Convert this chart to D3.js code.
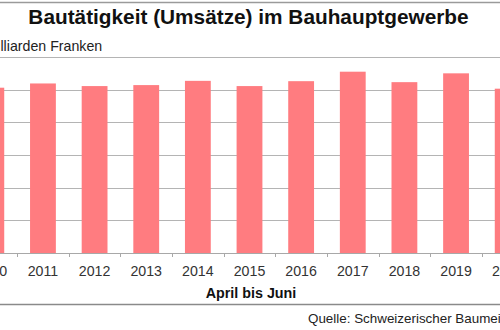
<!DOCTYPE html>
<html><head><meta charset="utf-8">
<script src="https://cdn.jsdelivr.net/npm/d3@7"></script>
<style>
html,body{margin:0;padding:0;background:#fff;}
svg{display:block;font-family:"Liberation Sans",Arial,sans-serif;}
</style></head>
<body>
<svg id="c" width="500" height="330"></svg>
<script>
const years = ["2010","2011","2012","2013","2014","2015","2016","2017","2018","2019","2020"];
const values = [5.06, 5.19, 5.11, 5.14, 5.27, 5.11, 5.26, 5.55, 5.23, 5.50, 5.03];
const yTicks = [0, 1, 2, 3, 4, 5, 6];
const title = "Bautätigkeit (Umsätze) im Bauhauptgewerbe";
const unitLabel = "Milliarden Franken";
const xTitle = "April bis Juni";
const source = "Quelle: Schweizerischer Baumeisterverband";

const svg = d3.select("#c");
svg.append("rect").attr("width",500).attr("height",330).attr("fill","#fff");

const x = d3.scaleBand().domain(years).range([-34.5, 533.5]).paddingInner(0.5).paddingOuter(0.25);
const y = d3.scaleLinear().domain([0, 6]).range([253, 57]);

// top frame line
svg.append("line").attr("x1",0).attr("x2",500).attr("y1",2.5).attr("y2",2.5)
  .attr("stroke","#9a9a9a").attr("stroke-width",1.5);

// gridlines
svg.append("g").selectAll("line").data(yTicks.filter(t => t > 0)).join("line")
  .attr("x1",0).attr("x2",500)
  .attr("y1",d => Math.round(y(d)) + 0.5).attr("y2",d => Math.round(y(d)) + 0.5)
  .attr("stroke","#b4b4b4").attr("stroke-width",1);

// bars
svg.append("g").selectAll("rect").data(years).join("rect")
  .attr("x", d => x(d))
  .attr("width", x.bandwidth())
  .attr("y", (d,i) => y(values[i]))
  .attr("height", (d,i) => y(0) - y(values[i]))
  .attr("fill", "#ff7c80");

// x axis baseline and ticks at category boundaries
const step = x.step();
const bounds = years.map(d => x(d) - step * 0.25).concat([x(years[years.length-1]) + x.bandwidth() + step*0.25]);
svg.append("line").attr("x1",0).attr("x2",500).attr("y1",y(0)+0.5).attr("y2",y(0)+0.5)
  .attr("stroke","#a8a8a8").attr("stroke-width",1);
svg.append("g").selectAll("line").data(bounds).join("line")
  .attr("x1",d => Math.round(d)+0.5).attr("x2",d => Math.round(d)+0.5)
  .attr("y1",y(0)).attr("y2",y(0)+4)
  .attr("stroke","#a8a8a8").attr("stroke-width",1);

// year labels
svg.append("g").selectAll("text").data(years).join("text")
  .attr("x", d => x(d) + x.bandwidth()/2)
  .attr("y", 276)
  .attr("text-anchor","middle")
  .attr("font-size","14.2px")
  .attr("fill","#333")
  .text(d => d);

// x title
svg.append("text").attr("x",251).attr("y",297.5).attr("text-anchor","middle")
  .attr("font-size","14.3px").attr("font-weight","bold").attr("fill","#111").text(xTitle);

// bottom line
svg.append("line").attr("x1",0).attr("x2",500).attr("y1",304.5).attr("y2",304.5)
  .attr("stroke","#8a8a8a").attr("stroke-width",1.5);

// title
svg.append("text").attr("x",248.5).attr("y",24).attr("text-anchor","middle")
  .attr("font-size","20.8px").attr("font-weight","bold").attr("fill","#111").text(title);

// unit label
svg.append("text").attr("x",-14.5).attr("y",51).attr("font-size","14.2px").attr("fill","#222").text(unitLabel);

// source
svg.append("text").attr("x",308).attr("y",323).attr("font-size","13.4px").attr("fill","#222").text(source);
</script>
</body></html>
